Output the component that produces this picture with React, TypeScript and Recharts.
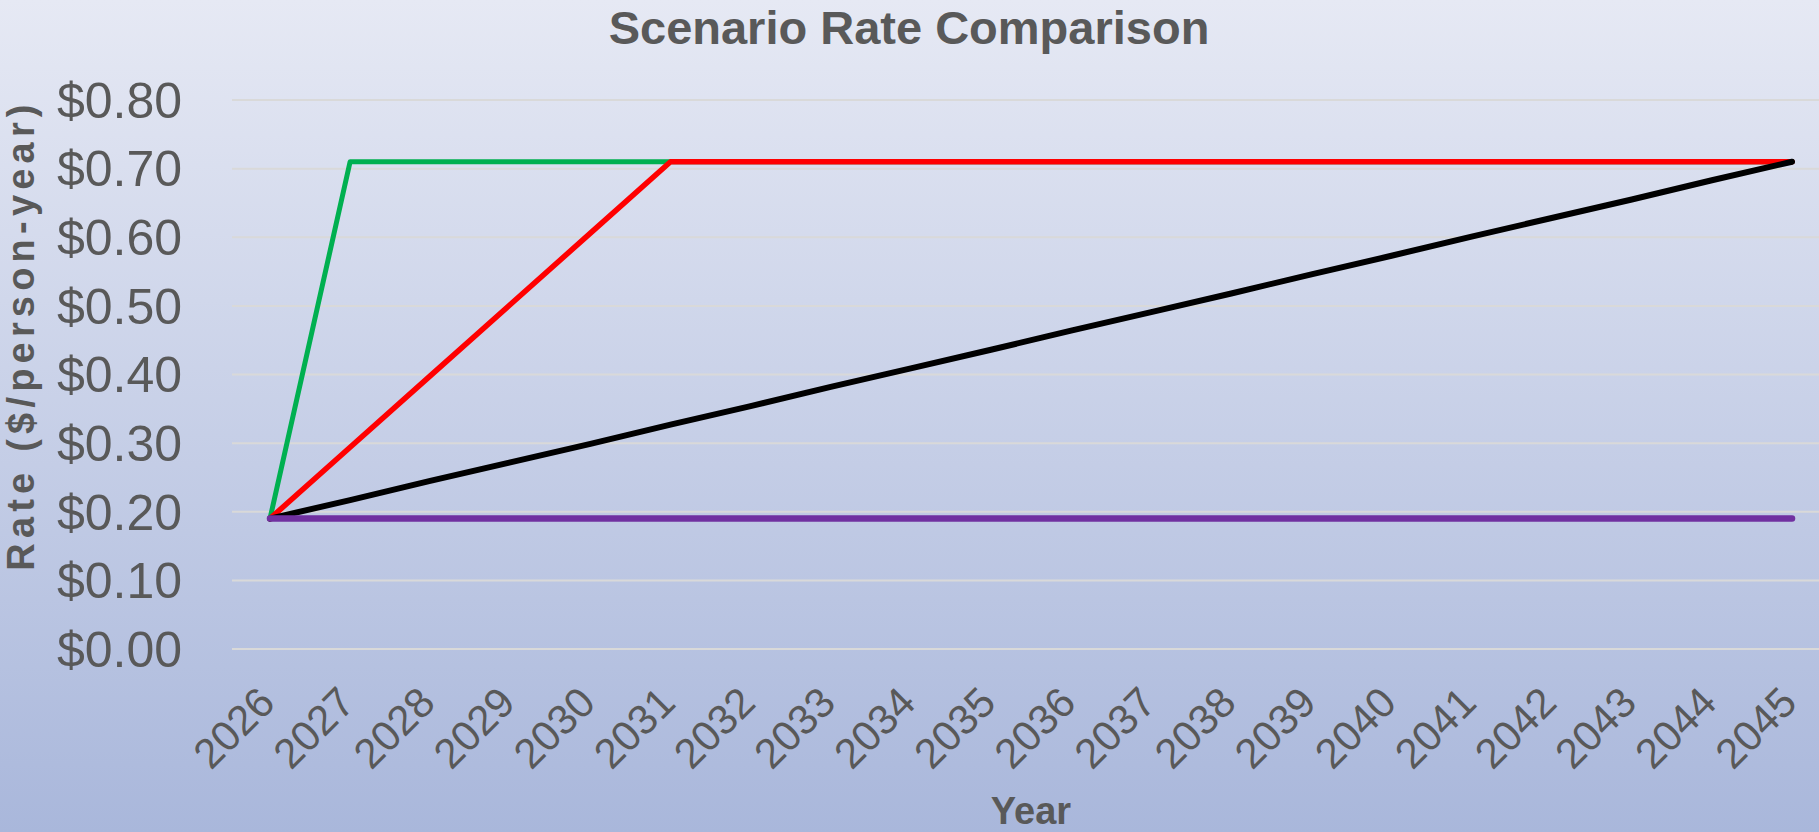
import React from "react";
import { CartesianGrid, Line, LineChart, XAxis, YAxis } from "recharts";

const years = [
  "2026", "2027", "2028", "2029", "2030", "2031", "2032", "2033", "2034", "2035",
  "2036", "2037", "2038", "2039", "2040", "2041", "2042", "2043", "2044", "2045",
];

// green: jumps to the full rate after one year
const fastRamp = [
  0.19, 0.71, 0.71, 0.71, 0.71, 0.71, 0.71, 0.71, 0.71, 0.71,
  0.71, 0.71, 0.71, 0.71, 0.71, 0.71, 0.71, 0.71, 0.71, 0.71,
];

// red: five-year phase-in
const fiveYearRamp = [
  0.19, 0.294, 0.398, 0.502, 0.606, 0.71, 0.71, 0.71, 0.71, 0.71,
  0.71, 0.71, 0.71, 0.71, 0.71, 0.71, 0.71, 0.71, 0.71, 0.71,
];

// black: phased in over the whole period
const longRamp = [
  0.19, 0.217, 0.245, 0.272, 0.299, 0.327, 0.354, 0.382, 0.409, 0.436,
  0.464, 0.491, 0.518, 0.546, 0.573, 0.601, 0.628, 0.655, 0.683, 0.71,
];

// purple: stays at the current rate
const flatRate = [
  0.19, 0.19, 0.19, 0.19, 0.19, 0.19, 0.19, 0.19, 0.19, 0.19,
  0.19, 0.19, 0.19, 0.19, 0.19, 0.19, 0.19, 0.19, 0.19, 0.19,
];

const yTicks = [0, 0.1, 0.2, 0.3, 0.4, 0.5, 0.6, 0.7, 0.8];

const data = years.map((year, i) => ({
  year,
  fast: fastRamp[i],
  fiveYear: fiveYearRamp[i],
  long: longRamp[i],
  flat: flatRate[i],
}));

const W = 1819;
const H = 832;
const FONT = '"Liberation Sans", Arial, sans-serif';
const TEXT = "#595959";

function YearTick(props: any) {
  const { x, y, payload } = props;
  const ax = x + 7;
  const ay = y + 56;
  return (
    <text
      x={ax}
      y={ay}
      transform={`rotate(-45 ${ax} ${ay})`}
      textAnchor="end"
      fontSize={42}
      fontFamily={FONT}
      fill={TEXT}
    >
      {payload.value}
    </text>
  );
}

export default function App() {
  return (
    <div
      style={{
        position: "absolute",
        left: 0,
        top: 0,
        width: W,
        height: H,
        overflow: "hidden",
        background: "linear-gradient(180deg, #e6e9f4 0%, #a9b7db 100%)",
      }}
    >
      <LineChart width={W} height={H} data={data} margin={{ top: 100, right: 0, bottom: 0, left: 0 }}>
        <CartesianGrid vertical={false} stroke="#d9d9d9" strokeWidth={2} />
        <XAxis
          dataKey="year"
          height={183}
          axisLine={false}
          tickLine={false}
          tickSize={0}
          tickMargin={0}
          interval={0}
          padding={{ left: 38, right: 27 }}
          tick={<YearTick />}
        />
        <YAxis
          width={232}
          domain={[0, 0.8]}
          ticks={yTicks}
          axisLine={false}
          tickLine={false}
          tickSize={0}
          tickMargin={50}
          tickFormatter={(v: number) => `$${v.toFixed(2)}`}
          tick={{ fontSize: 50, fill: TEXT, fontFamily: FONT }}
        />
        <Line type="linear" dataKey="fast" stroke="#00b050" strokeWidth={5} dot={false} strokeLinejoin="round" strokeLinecap="round" isAnimationActive={false} />
        <Line type="linear" dataKey="fiveYear" stroke="#ff0000" strokeWidth={5.5} dot={false} strokeLinejoin="round" strokeLinecap="round" isAnimationActive={false} />
        <Line type="linear" dataKey="long" stroke="#000000" strokeWidth={6} dot={false} strokeLinejoin="round" strokeLinecap="round" isAnimationActive={false} />
        <Line type="linear" dataKey="flat" stroke="#7030a0" strokeWidth={6.5} dot={false} strokeLinejoin="round" strokeLinecap="round" isAnimationActive={false} />
      </LineChart>
      <svg width={W} height={H} style={{ position: "absolute", left: 0, top: 0, pointerEvents: "none" }}>
        <text x={909} y={44} textAnchor="middle" fontSize={47} fontWeight={700} fontFamily={FONT} fill={TEXT}>
          Scenario Rate Comparison
        </text>
        <text x={1031} y={824} textAnchor="middle" fontSize={38} fontWeight={700} fontFamily={FONT} fill={TEXT}>
          Year
        </text>
        <text
          x={34}
          y={335}
          transform="rotate(-90 34 335)"
          textAnchor="middle"
          fontSize={38}
          fontWeight={700}
          letterSpacing={5.2}
          fontFamily={FONT}
          fill={TEXT}
        >
          Rate ($/person-year)
        </text>
      </svg>
    </div>
  );
}
